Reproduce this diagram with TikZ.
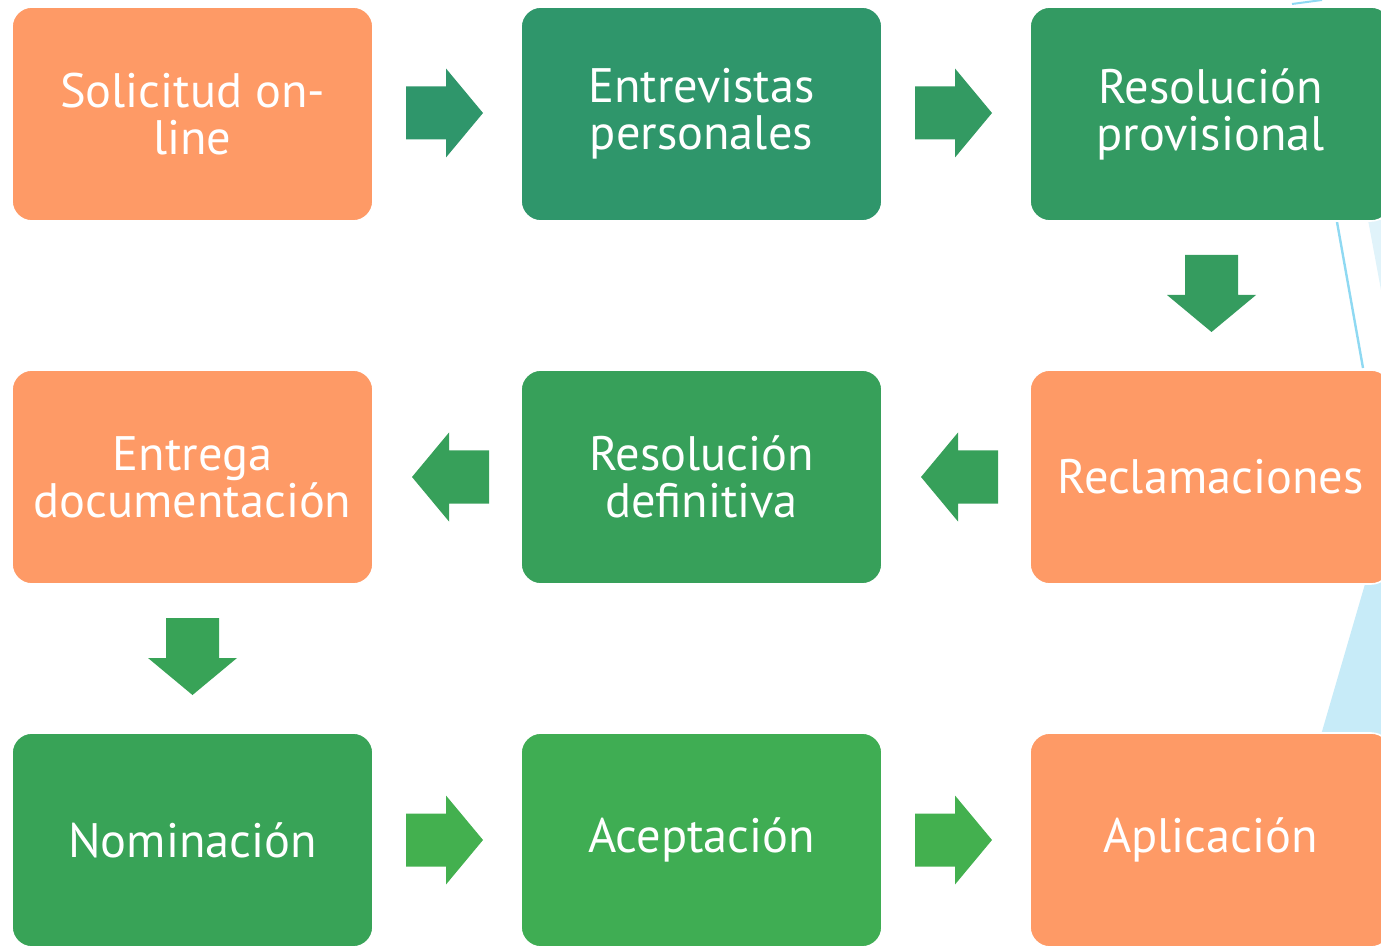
\documentclass[tikz,border=0pt]{standalone}
\usepackage{fontspec}
\setmainfont{PT Sans}
\usetikzlibrary{calc}
\definecolor{orng}{HTML}{FE9A66}
\definecolor{gA}{HTML}{2F966B}
\definecolor{gB}{HTML}{339A62}
\definecolor{gC}{HTML}{359C5F}
\definecolor{gD}{HTML}{37A05A}
\definecolor{gE}{HTML}{38A357}
\definecolor{gF}{HTML}{3FAD53}
\definecolor{gG}{HTML}{43B04F}
\definecolor{skyline}{HTML}{8FD9F2}
\definecolor{skyfill}{HTML}{C7EBF8}
\definecolor{skyfaint}{HTML}{E0F3FA}
\newcommand\blockarrow[3]{\fill[#1,shift={(#2)},rotate=#3] (-38.5,-26.5) -- (1.5,-26.5) -- (1.5,-44.5) -- (38.5,0) -- (1.5,44.5) -- (1.5,26.5) -- (-38.5,26.5) -- cycle;}
\begin{document}
\begin{tikzpicture}[x=0.5pt,y=-0.5pt,
  box/.style={rounded corners=10pt, draw=white, line width=0.8pt,
    minimum width=180.5pt, minimum height=107pt, inner sep=0pt,
    text=white, align=center, font=\fontsize{24.2}{23.5}\selectfont}]
\useasboundingbox (0,0) rectangle (1381,946);
\clip (0,0) rectangle (1381,946);
% background decorations
\fill[skyfaint] (1368,220) -- (1381,220) -- (1381,290) -- cycle;
\fill[skyfill] (1372,560) -- (1316,752) -- (1381,752) -- (1381,560) -- cycle;
\draw[skyline, line width=1.2pt] (1337,222) -- (1363,368);
\draw[skyline, line width=1pt] (1292,4) -- (1322,0);
% boxes
\node[box, fill=orng] (a) at (192.5,114) {Solicitud on-\\line};
\node[box, fill=gA]   (b) at (701.5,114) {Entrevistas\\personales};
\node[box, fill=gB]   (c) at (1210.5,114) {Resolución\\provisional};
\node[box, fill=orng] (d) at (1210.5,477) {Reclamaciones};
\node[box, fill=gD]   (e) at (701.5,477) {Resolución\\definitiva};
\node[box, fill=orng] (f) at (192.5,477) {Entrega\\documentación};
\node[box, fill=gE]   (g) at (192.5,840) {Nominación};
\node[box, fill=gF]   (h) at (701.5,840) {Aceptación};
\node[box, fill=orng] (i) at (1210.5,840) {Aplicación};
% connector arrows
\coordinate (ab) at ($(a.east)!0.5!(b.west)+(-2.5,-1)$);
\coordinate (bc) at ($(b.east)!0.5!(c.west)+(-2.5,-1)$);
\coordinate (cd) at ($(c.south)!0.5!(d.north)+(1,-2)$);
\coordinate (de) at ($(d.west)!0.5!(e.east)+(3.5,0)$);
\coordinate (ef) at ($(e.west)!0.5!(f.east)+(3.5,0)$);
\coordinate (fg) at ($(f.south)!0.5!(g.north)+(0,-2)$);
\coordinate (gh) at ($(g.east)!0.5!(h.west)+(-2.5,0)$);
\coordinate (hi) at ($(h.east)!0.5!(i.west)+(-2.5,0)$);
\blockarrow{gA}{ab}{0}
\blockarrow{gB}{bc}{0}
\blockarrow{gC}{cd}{-90}
\blockarrow{gD}{de}{180}
\blockarrow{gD}{ef}{180}
\blockarrow{gE}{fg}{-90}
\blockarrow{gG}{gh}{0}
\blockarrow{gG}{hi}{0}
\end{tikzpicture}
\end{document}
